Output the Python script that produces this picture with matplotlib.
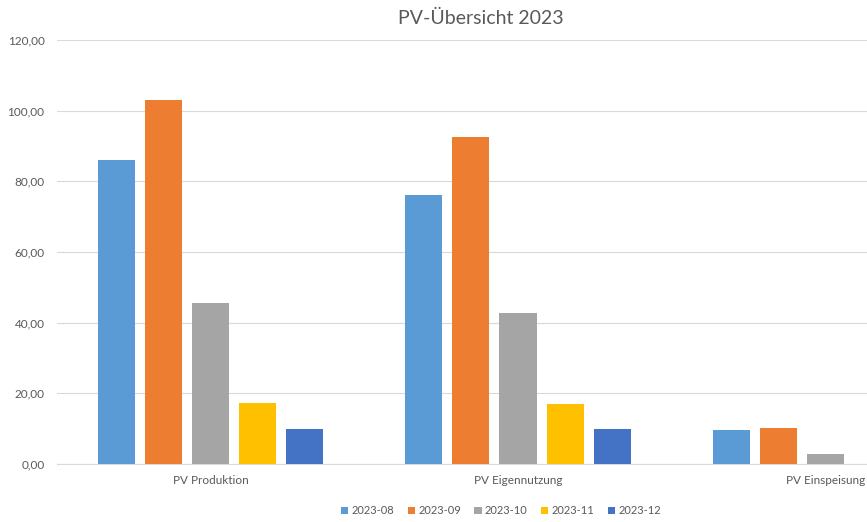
import matplotlib.pyplot as plt
import numpy as np
from matplotlib.ticker import FuncFormatter

plt.rcParams["font.family"] = ["Lato", "DejaVu Sans"]

categories = ["PV Produktion", "PV Eigennutzung", "PV Einspeisung"]
months = ["2023-08", "2023-09", "2023-10", "2023-11", "2023-12"]
val_2023_08 = [86.0, 76.1, 9.7]
val_2023_09 = [103.0, 92.5, 10.3]
val_2023_10 = [45.6, 42.7, 2.8]
val_2023_11 = [17.3, 17.0, 0.0]
val_2023_12 = [9.9, 9.9, 0.0]
series = [val_2023_08, val_2023_09, val_2023_10, val_2023_11, val_2023_12]
colors = ["#5B9BD5", "#ED7D31", "#A5A5A5", "#FFC000", "#4472C4"]
text_col = "#595959"

fig = plt.figure(figsize=(8.67, 5.22), dpi=100)
# plot area runs past the right edge, like the cropped original
ax = fig.add_axes([57 / 867, 58 / 522, 922 / 867, 424 / 522])

x = np.arange(len(categories))
step = 47 / 307
width = 37 / 307
for i, (vals, col, lab) in enumerate(zip(series, colors, months)):
    ax.bar(x + (i - 2) * step, vals, width=width, color=col, label=lab, zorder=3)

ax.set_xlim(-0.5, 2.5)
ax.set_ylim(0, 120)
ax.set_yticks(np.arange(0, 121, 20))
ax.yaxis.set_major_formatter(FuncFormatter(lambda v, p: f"{v:.2f}".replace(".", ",")))
ax.set_xticks(x)
ax.set_xticklabels(categories)
ax.tick_params(axis="both", length=0, colors=text_col, labelsize=8.5)
ax.tick_params(axis="y", pad=9)
ax.tick_params(axis="x", pad=8)
ax.grid(axis="y", color="#D9D9D9", linewidth=0.8, zorder=0)
for s in ["top", "right", "left"]:
    ax.spines[s].set_visible(False)
ax.spines["bottom"].set_color("#D9D9D9")
ax.spines["bottom"].set_linewidth(0.8)

fig.text(481 / 867, 1 - 18 / 522, "PV-Übersicht 2023", ha="center", va="center",
         fontsize=14, color=text_col)

handles, labels = ax.get_legend_handles_labels()
fig.legend(handles, labels, loc="center", bbox_to_anchor=(501 / 867, 1 - 511 / 522),
           ncol=5, frameon=False, fontsize=8, labelcolor=text_col,
           handlelength=0.65, handleheight=0.65, handletextpad=0.3, columnspacing=1.2)

fig.savefig("out.png", dpi=100, facecolor="white")
plt.close(fig)
